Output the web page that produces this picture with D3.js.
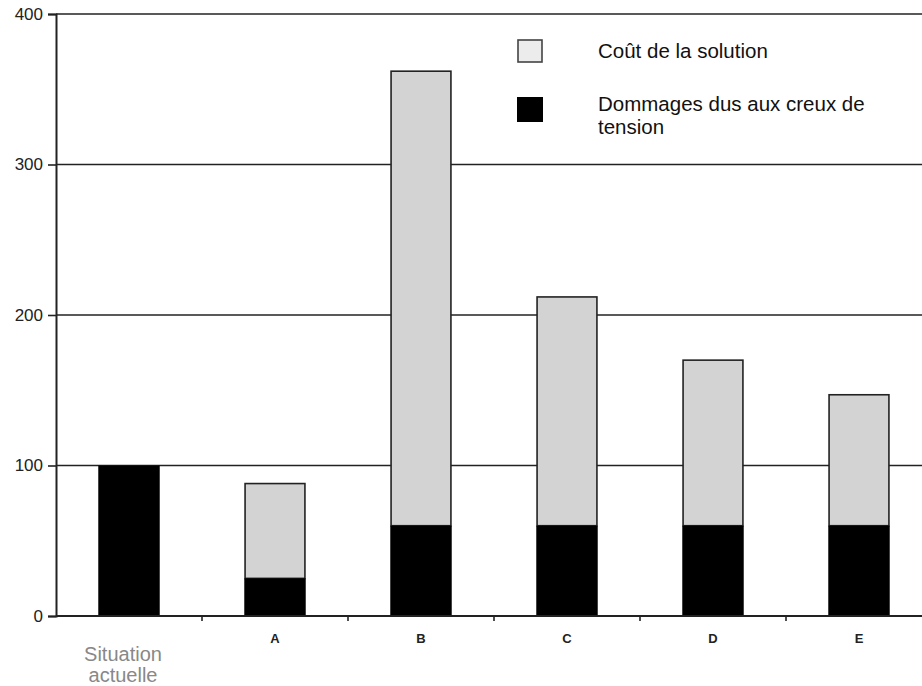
<!DOCTYPE html>
<html><head><meta charset="utf-8">
<script src="https://cdn.jsdelivr.net/npm/d3@7"></script>
<style>body{margin:0;background:#fff}svg{display:block}</style>
</head><body>
<script>
const categories = ["N","A","B","C","D","E"];
const damages = [100,25,60,60,60,60];
const solutionCost = [0,63,302,152,110,87];
const yTicks = [0,100,200,300,400];
const legendLabels = ["Coût de la solution", ["Dommages dus aux creux de","tension"]];
const situationLabel = ["Situation","actuelle"];

const W=922,H=686;
const svg=d3.select("body").append("svg").attr("width",W).attr("height",H);
const x=d3.scaleBand().domain(categories).range([56,932]).paddingInner(0.59).paddingOuter(0.295);
const y=d3.scaleLinear().domain([0,400]).range([616,14]);

svg.append("defs").append("clipPath").attr("id","nclip")
  .append("rect").attr("x",0).attr("y",0).attr("width",W).attr("height",629);

// gridlines
svg.append("g").selectAll("line").data(yTicks.filter(d=>d>0)).join("line")
  .attr("x1",56).attr("x2",W).attr("y1",d=>y(d)).attr("y2",d=>y(d))
  .attr("stroke","#222").attr("stroke-width",1.6);

// y axis
const yAxis=svg.append("g").attr("transform","translate(56,0)")
  .call(d3.axisLeft(y).tickValues(yTicks).tickSize(8).tickPadding(5));
yAxis.select(".domain").attr("stroke","#222").attr("stroke-width",2);
yAxis.selectAll(".tick line").attr("stroke","#222").attr("stroke-width",1.6);
yAxis.selectAll("text").attr("font-family","Arial, Liberation Sans, sans-serif").attr("font-size",17).attr("fill","#222");

// x axis boundary ticks
const bounds=categories.slice(1).map(c=>x(c)-x.step()*x.paddingInner()/2);
svg.append("g").selectAll("line").data(bounds).join("line")
  .attr("x1",d=>d).attr("x2",d=>d).attr("y1",616).attr("y2",621)
  .attr("stroke","#222").attr("stroke-width",1.6);

// bars
const data=categories.map((c,i)=>({c,dmg:damages[i],cost:solutionCost[i]}));
const g=svg.append("g");
data.forEach(d=>{
  if(d.cost>0){
    g.append("rect").attr("x",x(d.c)).attr("width",x.bandwidth())
      .attr("y",y(d.dmg+d.cost)).attr("height",y(d.dmg)-y(d.dmg+d.cost))
      .attr("fill","#d3d3d3").attr("stroke","#222").attr("stroke-width",1.6);
  }
  g.append("rect").attr("x",x(d.c)-0.8).attr("width",x.bandwidth()+1.6)
    .attr("y",y(d.dmg)).attr("height",y(0)-y(d.dmg)).attr("fill","#000");
});

// x axis line
svg.append("line").attr("x1",56).attr("x2",W).attr("y1",616).attr("y2",616)
  .attr("stroke","#222").attr("stroke-width",2);

// x tick labels (first one mostly hidden under the label box, as in the reference)
svg.append("g").selectAll("text").data(categories).join("text")
  .attr("x",d=>x(d)+x.bandwidth()/2).attr("y",d=>d==="N"?641:643).attr("text-anchor","middle")
  .attr("clip-path",d=>d==="N"?"url(#nclip)":null)
  .attr("font-family","Arial, Liberation Sans, sans-serif").attr("font-size",13).attr("font-weight","bold").attr("fill","#222")
  .text(d=>d);

// situation label
svg.append("g").selectAll("text").data(situationLabel).join("text")
  .attr("x",123).attr("y",(d,i)=>661+i*21).attr("text-anchor","middle")
  .attr("font-family","Arial, Liberation Sans, sans-serif").attr("font-size",20).attr("fill","#888")
  .text(d=>d);

// legend
const lg=svg.append("g");
lg.append("rect").attr("x",518).attr("y",40).attr("width",24).attr("height",22).attr("fill","#ececec").attr("stroke","#444").attr("stroke-width",1.6);
lg.append("rect").attr("x",517).attr("y",97).attr("width",26).attr("height",25).attr("fill","#000");
lg.append("text").attr("x",598).attr("y",58).attr("font-family","Arial, Liberation Sans, sans-serif").attr("font-size",20.5).attr("fill","#111").text(legendLabels[0]);
lg.append("text").attr("x",598).attr("y",111).attr("font-family","Arial, Liberation Sans, sans-serif").attr("font-size",20.5).attr("fill","#111").text(legendLabels[1][0]);
lg.append("text").attr("x",598).attr("y",134).attr("font-family","Arial, Liberation Sans, sans-serif").attr("font-size",20.5).attr("fill","#111").text(legendLabels[1][1]);
</script>
</body></html>
